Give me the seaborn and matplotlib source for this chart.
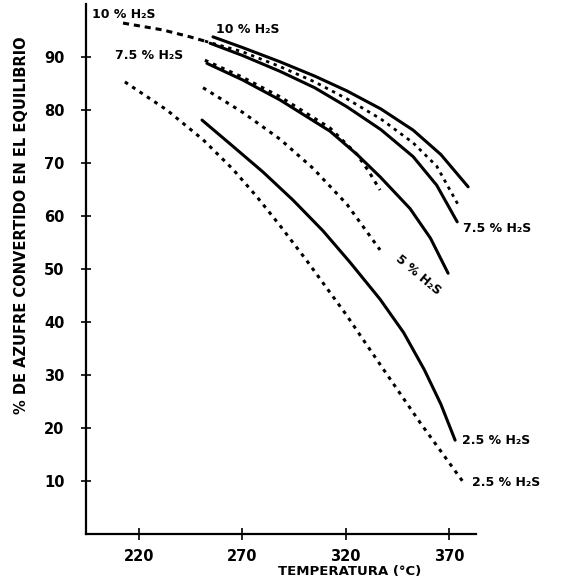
import matplotlib
matplotlib.use("Agg")
import matplotlib.pyplot as plt
import seaborn as sns
import numpy as np

# ---------------- DATA ----------------
# 10 % H2S, solid
a_temp = [255.8, 270, 288.2, 305, 320.6, 337, 352.6, 366, 379.2]
a_conv = [93.8, 91.8, 89.1, 86.4, 83.6, 80.2, 76.2, 71.6, 65.5]

# 7.5 % H2S, solid
b_temp = [254.4, 270, 288.2, 305, 320.6, 337, 352.6, 364, 373.9]
b_conv = [92.6, 90.3, 87.3, 84.2, 80.6, 76.3, 71.2, 65.8, 58.9]

# 10 % H2S, dashed (dotted between the solid curves)
c_temp = [212.3, 231.6, 244.7, 251.9, 270, 288.2, 305, 320.6, 337, 352.6, 364, 374.4]
c_conv = [96.4, 95.1, 93.8, 93.0, 91.0, 88.2, 85.3, 82.1, 78.3, 73.8, 69.4, 62.1]

# 5 % H2S, solid
d_temp = [252.9, 270, 288.2, 312.4, 325.5, 336.6, 351.1, 361, 369.5]
d_conv = [88.8, 85.7, 81.9, 76.0, 71.6, 67.4, 61.4, 55.8, 49.2]

# 7.5 % H2S, dotted (runs along the 5 % solid)
e_temp = [251.9, 270, 288.2, 312.4, 325.5, 331, 336.6]
e_conv = [89.4, 86.2, 82.5, 76.6, 71.6, 68.5, 64.9]

# 5 % H2S, dashed
f_temp = [251, 270, 288.2, 304.2, 320.6, 336.6]
f_conv = [84.2, 79.6, 74.5, 69.0, 62.2, 53.6]

# 2.5 % H2S, solid
g_temp = [250.5, 265, 280, 294.5, 309, 322, 336.6, 348, 358, 366, 372.9]
g_conv = [78.1, 73.3, 68.3, 63.0, 57.2, 51.3, 44.3, 38.0, 31.0, 24.5, 17.7]

# 2.5 % H2S, dashed
h_temp = [213.2, 233.5, 251.0, 265.5, 277.1, 288.2, 301.3, 320.0, 336.6, 356.0, 376.8]
h_conv = [85.3, 80.0, 74.4, 68.8, 63.6, 58.2, 51.5, 41.5, 32.0, 21.0, 9.8]

x_ticks = [220, 270, 320, 370]
y_ticks = [10, 20, 30, 40, 50, 60, 70, 80, 90]

# ---------------- STYLE ----------------
sns.set_style("ticks")
plt.rcParams["font.family"] = ["DejaVu Sans"]
plt.rcParams["font.weight"] = "bold"
for key in ["text.color", "axes.labelcolor", "xtick.color", "ytick.color", "axes.edgecolor"]:
    plt.rcParams[key] = "black"

fig = plt.figure(figsize=(5.64, 5.84), dpi=100)
ax = fig.add_axes([86 / 564, 50 / 584, 390 / 564, 530 / 584])

LW = 2.2
DOT = (0, (1.2, 1.7))
DASH = (0, (2.0, 1.6))

# ---------------- CURVES ----------------
sns.lineplot(x=a_temp, y=a_conv, ax=ax, color="black", lw=LW)
sns.lineplot(x=b_temp, y=b_conv, ax=ax, color="black", lw=LW)

c_t = np.array(c_temp)
c_v = np.array(c_conv)
left = c_t <= 252
right = c_t >= 251.9
sns.lineplot(x=c_t[left], y=c_v[left], ax=ax, color="black", lw=LW, linestyle=DASH)
sns.lineplot(x=c_t[right], y=c_v[right], ax=ax, color="black", lw=LW - 0.2, linestyle=DOT)

sns.lineplot(x=d_temp, y=d_conv, ax=ax, color="black", lw=LW)
sns.lineplot(x=e_temp, y=e_conv, ax=ax, color="black", lw=LW, linestyle=DOT)
sns.lineplot(x=f_temp, y=f_conv, ax=ax, color="black", lw=LW, linestyle=DOT)
sns.lineplot(x=g_temp, y=g_conv, ax=ax, color="black", lw=LW)
sns.lineplot(x=h_temp, y=h_conv, ax=ax, color="black", lw=LW, linestyle=DOT)

# ---------------- LABELS ON CURVES ----------------
lab = dict(fontsize=9, fontweight="bold", color="black", va="center", ha="left")
ax.text(197.3, 98.1, "10 % H₂S", **lab)
ax.text(257.3, 95.1, "10 % H₂S", **lab)
ax.text(208.4, 90.2, "7.5 % H₂S", **lab)
ax.text(376.8, 57.7, "7.5 % H₂S", **lab)
ax.text(355, 48.9, "5 % H₂S", fontsize=9, fontweight="bold", rotation=-40,
        rotation_mode="anchor", ha="center", va="center")
ax.text(376.3, 17.7, "2.5 % H₂S", **lab)
ax.text(381.1, 9.8, "2.5 % H₂S", **lab)

# ---------------- AXES ----------------
ax.set_xlim(194.4, 383)
ax.set_ylim(0, 100)
ax.set_xticks(x_ticks)
ax.set_yticks(y_ticks)
ax.tick_params(axis="x", direction="inout", length=8, width=1.2, pad=7, labelsize=10.5)
ax.tick_params(axis="y", direction="inout", length=7, width=1.2, pad=12, labelsize=10.5)
for lbl in ax.get_xticklabels() + ax.get_yticklabels():
    lbl.set_fontweight("bold")

sns.despine(ax=ax)
ax.spines["left"].set_linewidth(1.6)
ax.spines["bottom"].set_linewidth(1.6)

ax.set_xlabel("TEMPERATURA (°C)", fontsize=9.5, fontweight="bold")
ax.xaxis.set_label_coords(0.677, -0.058)
ax.set_ylabel("% DE AZUFRE CONVERTIDO EN EL EQUILIBRIO", fontsize=10.5, fontweight="bold")
ax.yaxis.set_label_coords(-0.145, 0.583)

fig.savefig("out.png", dpi=100, facecolor="white")
